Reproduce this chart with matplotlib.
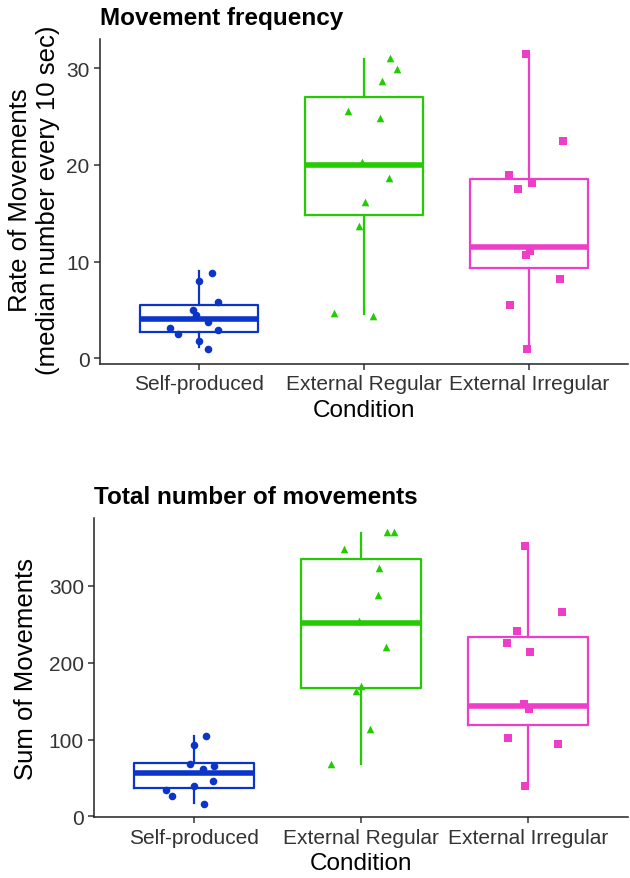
import numpy as np
import matplotlib
matplotlib.use("Agg")
import matplotlib.pyplot as plt

plt.rcParams['font.family'] = ['Liberation Sans', 'DejaVu Sans']

conditions = ['Self-produced', 'External Regular', 'External Irregular']
colors = ['#0A35C8', '#22CC00', '#EE3DC8']
markers = ['o', '^', 's']

# panel 1: rate of movements (median number every 10 sec)
rate_self = [8.79, 7.96, 5.85, 5.03, 4.48, 3.79, 3.13, 2.51, 2.93, 1.82, 0.96]
rate_reg = [31.05, 29.92, 28.64, 25.54, 24.82, 20.33, 18.61, 16.19, 13.71, 4.68, 4.41]
rate_irr = [31.4, 22.5, 18.99, 18.1, 17.54, 11.07, 10.72, 8.2, 5.48, 0.96]
# box stats: whisker low, q1, median, q3, whisker high
rate_box = [
    [1.14, 2.75, 4.06, 5.51, 9.06],
    [4.58, 14.85, 20.02, 26.99, 30.95],
    [0.96, 9.31, 11.54, 18.54, 31.4],
]

# panel 2: sum of movements
sum_self = [104.6, 92.4, 67.7, 65.9, 61.6, 46.4, 39.0, 34.6, 26.4, 16.0]
sum_reg = [370.6, 370.6, 348.0, 323.3, 288.2, 254.7, 220.1, 170.1, 163.6, 113.7, 67.7]
sum_irr = [352.4, 265.6, 241.3, 225.7, 214.3, 146.2, 139.7, 101.6, 94.1, 39.1]
sum_box = [
    [17.3, 37.3, 56.0, 69.0, 104.9],
    [68.1, 167.1, 251.7, 334.6, 368.9],
    [39.1, 119.3, 143.6, 233.1, 352.4],
]

# horizontal jitter of the points (category units), as seen in the picture
rate_jit = [
    [0.077, 0.0, 0.118, -0.038, -0.02, 0.057, -0.173, -0.13, 0.118, 0.0, 0.057],
    [0.159, 0.2, 0.11, -0.098, 0.1, -0.014, 0.152, 0.004, -0.03, -0.179, 0.053],
    [-0.016, 0.207, -0.122, 0.018, -0.065, 0.004, -0.02, 0.189, -0.114, -0.014],
]
sum_jit = [
    [0.071, 0.0, -0.024, 0.119, 0.054, 0.111, 0.0, -0.17, -0.137, 0.056],
    [0.158, 0.198, -0.101, 0.109, 0.101, -0.012, 0.149, 0.0, -0.03, 0.054, -0.179],
    [-0.018, 0.204, -0.064, -0.125, 0.014, -0.026, 0.006, -0.121, 0.182, -0.018],
]


def panel(ax, groups, boxes, jit, title, ylabel, ylim, yticks):
    for i, (vals, st, jj) in enumerate(zip(groups, boxes, jit)):
        x = i + 1 + np.array(jj)
        ax.scatter(x, vals, marker=markers[i], s=30, color=colors[i],
                   linewidths=0, zorder=2)
        stats = [dict(whislo=st[0], q1=st[1], med=st[2], q3=st[3], whishi=st[4])]
        ax.bxp(stats, positions=[i + 1], widths=0.72, showcaps=False,
               showfliers=False, patch_artist=False,
               boxprops=dict(color=colors[i], linewidth=1.6),
               whiskerprops=dict(color=colors[i], linewidth=1.6),
               medianprops=dict(color=colors[i], linewidth=4.0,
                                solid_capstyle='butt'),
               zorder=3)
    ax.set_xlim(0.4, 3.6)
    ax.set_ylim(*ylim)
    ax.set_yticks(yticks)
    ax.set_xticks([1, 2, 3])
    ax.set_xticklabels(conditions)
    for s in ['top', 'right']:
        ax.spines[s].set_visible(False)
    for s in ['left', 'bottom']:
        ax.spines[s].set_linewidth(1.1)
        ax.spines[s].set_color('#222222')
    ax.tick_params(labelsize=15, colors='#333333', length=4, width=1.1,
                   labelcolor='#333333')
    ax.set_xlabel('Condition', fontsize=17.5, color='black', labelpad=4)
    ax.set_ylabel(ylabel, fontsize=18.5, color='black')
    ax.set_title(title, loc='left', fontsize=17.5, fontweight='bold', pad=11,
                 x=0.0)


fig = plt.figure(figsize=(6.3, 8.79), dpi=100)
ax1 = fig.add_axes([0.1587, 0.5848, 0.8381, 0.3697])
ax2 = fig.add_axes([0.1497, 0.0690, 0.8471, 0.3406])

panel(ax1, [rate_self, rate_reg, rate_irr], rate_box, rate_jit,
      'Movement frequency',
      'Rate of Movements\n(median number every 10 sec)',
      (-0.59, 33.0), [0, 10, 20, 30])
panel(ax2, [sum_self, sum_reg, sum_irr], sum_box, sum_jit,
      'Total number of movements', 'Sum of Movements',
      (-1.3, 388.4), [0, 100, 200, 300])

ax1.yaxis.set_label_coords(-0.076, 0.507)
ax2.yaxis.set_label_coords(-0.105, 0.5)

fig.savefig('out.png', dpi=100)
